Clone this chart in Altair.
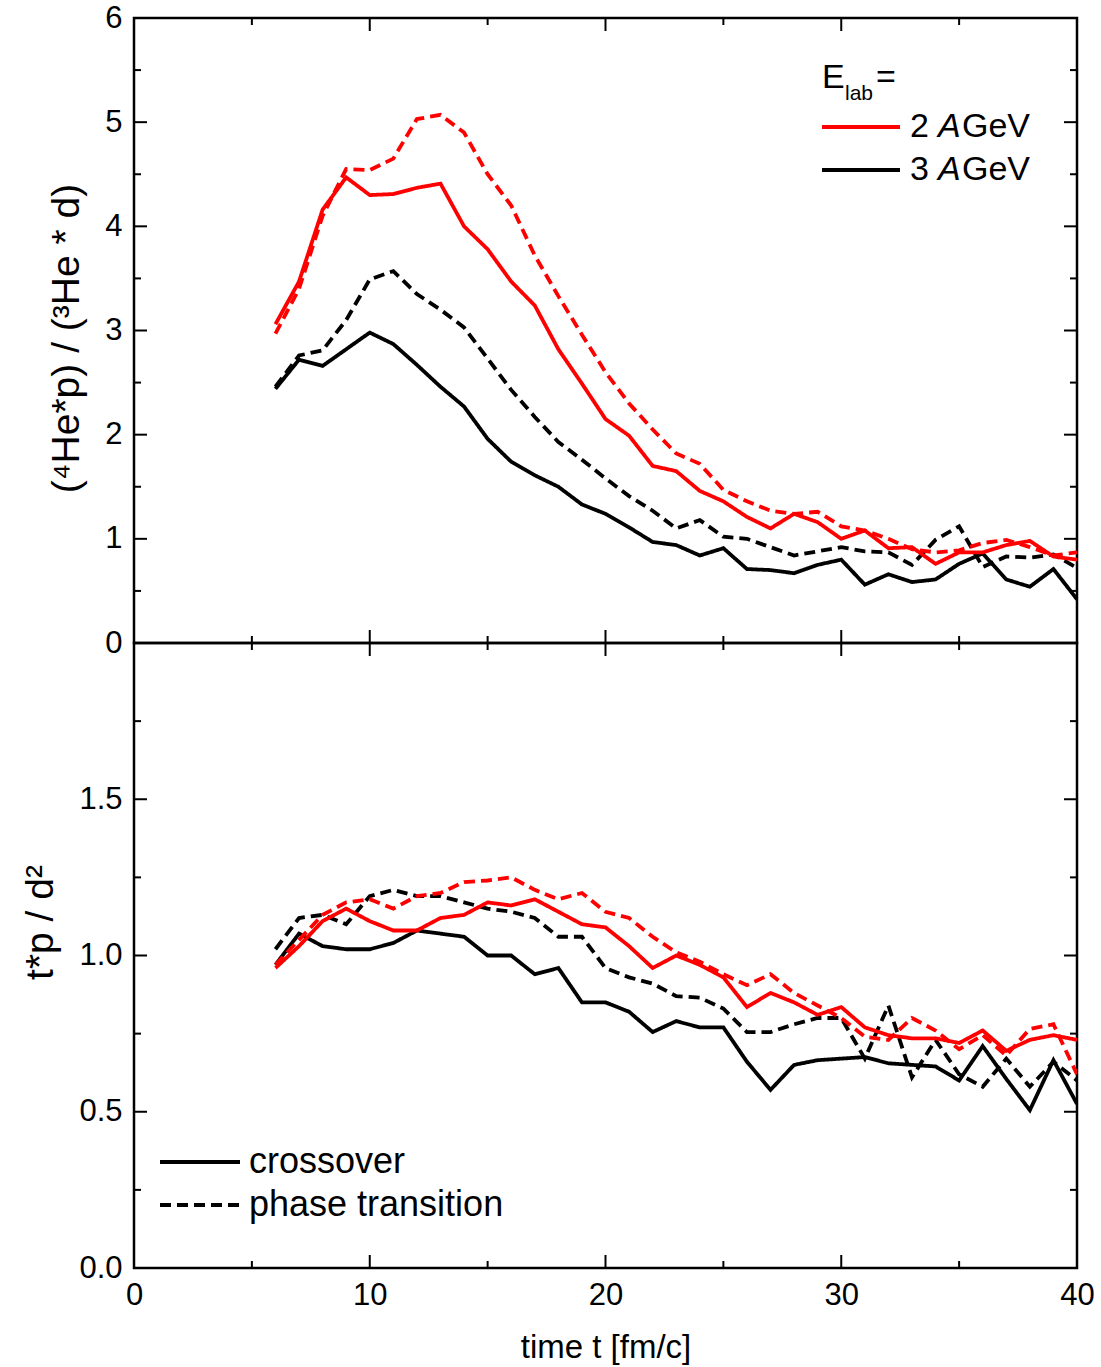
import altair as alt
import pandas as pd

# ---------------- data ----------------
t = list(range(6, 41))

top_2_cross = [3.06, 3.47, 4.16, 4.47, 4.30, 4.31, 4.37, 4.41, 4.00, 3.78, 3.47, 3.24, 2.82, 2.49, 2.15,
               1.99, 1.70, 1.65, 1.46, 1.36, 1.21, 1.10, 1.24, 1.16, 1.00, 1.08, 0.91, 0.92, 0.76, 0.87,
               0.87, 0.94, 0.98, 0.83, 0.80]
top_2_pt = [2.97, 3.40, 4.10, 4.55, 4.54, 4.65, 5.03, 5.07, 4.90, 4.50, 4.20, 3.72, 3.33, 2.96, 2.60,
            2.30, 2.05, 1.82, 1.72, 1.47, 1.36, 1.27, 1.24, 1.26, 1.12, 1.08, 1.00, 0.90, 0.87, 0.89,
            0.96, 0.99, 0.92, 0.84, 0.87]
top_3_cross = [2.44, 2.72, 2.66, 2.82, 2.98, 2.87, 2.67, 2.46, 2.27, 1.96, 1.74, 1.61, 1.50, 1.33, 1.24,
               1.11, 0.97, 0.94, 0.84, 0.91, 0.71, 0.70, 0.67, 0.75, 0.80, 0.56, 0.66, 0.585, 0.61, 0.76,
               0.86, 0.61, 0.54, 0.71, 0.42]
top_3_pt = [2.46, 2.76, 2.81, 3.10, 3.49, 3.57, 3.35, 3.20, 3.03, 2.73, 2.43, 2.17, 1.93, 1.76, 1.58,
            1.41, 1.27, 1.10, 1.18, 1.02, 1.00, 0.92, 0.84, 0.88, 0.92, 0.88, 0.87, 0.75, 0.99, 1.12,
            0.73, 0.83, 0.82, 0.85, 0.72]

bot_2_cross = [0.96, 1.03, 1.11, 1.15, 1.11, 1.08, 1.08, 1.12, 1.13, 1.17, 1.16, 1.18, 1.14, 1.10, 1.09,
               1.03, 0.96, 1.00, 0.97, 0.93, 0.835, 0.88, 0.85, 0.81, 0.835, 0.77, 0.745, 0.735, 0.735, 0.72,
               0.76, 0.695, 0.73, 0.745, 0.73]
bot_2_pt = [0.97, 1.05, 1.13, 1.17, 1.18, 1.15, 1.19, 1.20, 1.235, 1.24, 1.25, 1.21, 1.18, 1.20, 1.14,
            1.12, 1.06, 1.01, 0.98, 0.94, 0.905, 0.94, 0.88, 0.84, 0.80, 0.74, 0.73, 0.80, 0.76, 0.70,
            0.745, 0.68, 0.765, 0.78, 0.62]
bot_3_cross = [0.97, 1.07, 1.03, 1.02, 1.02, 1.04, 1.08, 1.07, 1.06, 1.00, 1.00, 0.94, 0.96, 0.85, 0.85,
               0.82, 0.755, 0.79, 0.77, 0.77, 0.66, 0.57, 0.65, 0.665, 0.67, 0.675, 0.655, 0.65, 0.645, 0.60,
               0.71, 0.605, 0.505, 0.665, 0.525]
bot_3_pt = [1.02, 1.12, 1.13, 1.10, 1.19, 1.21, 1.19, 1.19, 1.17, 1.15, 1.14, 1.12, 1.06, 1.06, 0.96,
            0.93, 0.91, 0.87, 0.865, 0.83, 0.755, 0.755, 0.78, 0.80, 0.80, 0.67, 0.84, 0.61, 0.73, 0.62,
            0.58, 0.67, 0.58, 0.66, 0.60]

energies = ["2 AGeV", "3 AGeV"]
scenarios = ["crossover", "phase transition"]

x_major = [0, 10, 20, 30, 40]
x_minor = [5, 15, 25, 35]
top_y_labels = [0, 1, 2, 3, 4, 5, 6]
top_y_minor = [0.5, 1.5, 2.5, 3.5, 4.5, 5.5]
bot_y_labels = [0.0, 0.5, 1.0, 1.5]
bot_y_major = [0.0, 0.5, 1.0, 1.5, 2.0]
bot_y_minor = [0.25, 0.75, 1.25, 1.75]

top_title = "(\u2074He*p) / (\u00b3He * d)"
bot_title = "t*p / d\u00b2"
x_title = "time t [fm/c]"

# ---------------- style ----------------
W, H = 943, 625
FONT = "Liberation Sans"
RED, BLACK = "#ff0000", "#000000"
MAJ, MIN = 13, 7


def long_df(series):
    rows = []
    for energy, scen, vals in series:
        for ti, v in zip(t, vals):
            rows.append({"t": ti, "value": v, "energy": energy, "scenario": scen})
    return pd.DataFrame(rows)


top_df = long_df([
    (energies[1], scenarios[0], top_3_cross), (energies[1], scenarios[1], top_3_pt),
    (energies[0], scenarios[0], top_2_cross), (energies[0], scenarios[1], top_2_pt)])
bot_df = long_df([
    (energies[1], scenarios[0], bot_3_cross), (energies[1], scenarios[1], bot_3_pt),
    (energies[0], scenarios[0], bot_2_cross), (energies[0], scenarios[1], bot_2_pt)])

color = alt.Color("energy:N", scale=alt.Scale(domain=energies, range=[RED, BLACK]), legend=None)
dash = alt.StrokeDash("scenario:N", scale=alt.Scale(domain=scenarios, range=[[1, 0], [11, 6]]),
                      legend=None)


def one_row():
    return pd.DataFrame({"k": [0]})


def text_layer(s, x, y, size, style="normal", baseline="alphabetic"):
    return alt.Chart(pd.DataFrame({"label": [s]})).mark_text(
        font=FONT, fontSize=size, fontStyle=style, align="left", baseline=baseline, color="black"
    ).encode(x=alt.value(x), y=alt.value(y), text="label:N")


def rule_layer(x0, x1, y, col, dashed=False):
    kw = dict(color=col, strokeWidth=4)
    if dashed:
        kw["strokeDash"] = [11, 6]
    return alt.Chart(one_row()).mark_rule(**kw).encode(
        x=alt.value(x0), x2=alt.value(x1), y=alt.value(y))


def panel(df, ydom, ylabels, ymajor, yminor, ytitle, yfmt, title_y, show_x, extra):
    xs = alt.Scale(domain=[0, 40], nice=False, zero=False)
    ys = alt.Scale(domain=ydom, nice=False, zero=False)
    if show_x:
        xaxis = alt.Axis(values=x_major, title=x_title, ticks=False, domain=False, grid=False,
                         labelFlush=False, labelPadding=12, titlePadding=21, format="d",
                         labelFontSize=31, titleFontSize=33)
    else:
        xaxis = None
    yaxis = alt.Axis(values=ylabels, title=ytitle, ticks=False, domain=False, grid=False,
                     labelFlush=False, labelPadding=12, titlePadding=18, format=yfmt,
                     labelFontSize=31, titleFontSize=39, titleY=title_y)
    X = alt.X("t:Q", scale=xs, axis=xaxis)
    Y = alt.Y("value:Q", scale=ys, axis=yaxis)

    lines = alt.Chart(df).mark_line(strokeWidth=3.8, clip=True).encode(
        x=X, y=Y, color=color, strokeDash=dash)

    def xt(vals, a, b):
        return alt.Chart(pd.DataFrame({"t": vals})).mark_rule(color="black", strokeWidth=2).encode(
            x=X, y=alt.value(a), y2=alt.value(b))

    def yt(vals, a, b):
        return alt.Chart(pd.DataFrame({"value": vals})).mark_rule(color="black", strokeWidth=2).encode(
            y=Y, x=alt.value(a), x2=alt.value(b))

    ticks = [xt(x_major, 0, MAJ), xt(x_minor, 0, MIN), xt(x_major, H, H - MAJ), xt(x_minor, H, H - MIN),
             yt(ymajor, 0, MAJ), yt(yminor, 0, MIN), yt(ymajor, W, W - MAJ), yt(yminor, W, W - MIN)]
    return alt.layer(lines, *ticks, *extra).properties(width=W, height=H)


top_legend = [
    text_layer("E", 688, 70, 34),
    text_layer("lab", 711, 82, 21),
    text_layer("=", 742, 70, 34),
    rule_layer(688, 766, 109, RED),
    text_layer("2", 776, 109, 34, baseline="middle"),
    text_layer("A", 804, 109, 34, style="italic", baseline="middle"),
    text_layer("GeV", 828, 109, 34, baseline="middle"),
    rule_layer(688, 766, 152, BLACK),
    text_layer("3", 776, 152, 34, baseline="middle"),
    text_layer("A", 804, 152, 34, style="italic", baseline="middle"),
    text_layer("GeV", 828, 152, 34, baseline="middle"),
]
bot_legend = [
    rule_layer(26, 106, 519, BLACK),
    text_layer(scenarios[0], 115, 519, 36, baseline="middle"),
    rule_layer(26, 106, 562, BLACK, dashed=True),
    text_layer(scenarios[1], 115, 562, 36, baseline="middle"),
]

top = panel(top_df, [0, 6], top_y_labels, top_y_labels, top_y_minor, top_title, "d", 320, False, top_legend)
bot = panel(bot_df, [0, 2], bot_y_labels, bot_y_major, bot_y_minor, bot_title, ".1f", 279, True, bot_legend)

chart = alt.vconcat(top, bot, spacing=0, bounds="flush").properties(
    padding={"left": 20, "top": 0, "right": 3, "bottom": 1},
    background="white",
).configure_view(
    stroke="black", strokeWidth=2.5
).configure_axis(
    labelFont=FONT, titleFont=FONT, labelColor="black", titleColor="black", titleFontWeight="normal"
)

chart.save("out.html", embed_options={"renderer": "svg", "actions": False})
